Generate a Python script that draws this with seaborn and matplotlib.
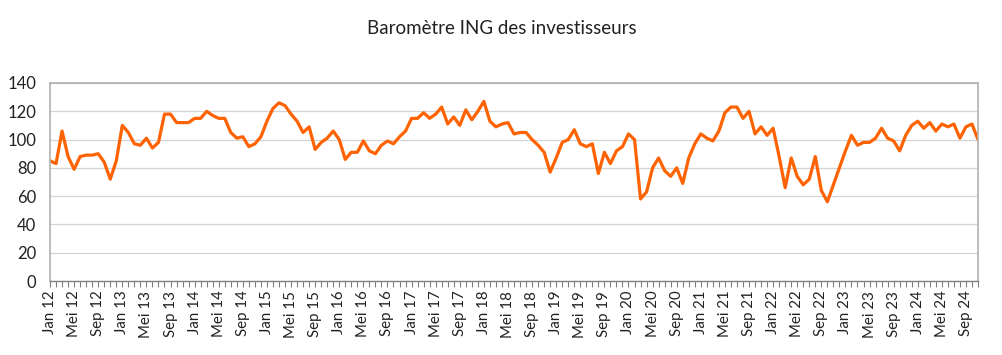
# -*- coding: utf-8 -*-

## Libraries ##

import numpy as np
import pandas as pd
import matplotlib
matplotlib.use("Agg")
import matplotlib.pyplot as plt
import seaborn as sns

## Data ##

title = "Baromètre ING des investisseurs"

# monthly index, Jan 2012 - Nov 2024
barometer = [
    85, 83, 106, 88, 79, 88, 89, 89, 90, 84, 72, 85,
    110, 105, 97, 96, 101, 94, 98, 118, 118, 112, 112, 112,
    115, 115, 120, 117, 115, 115, 105, 101, 102, 95, 97, 102,
    113, 122, 126, 124, 118, 113, 105, 109, 93, 98, 101, 106,
    100, 86, 91, 91, 99, 92, 90, 96, 99, 97, 102, 106,
    115, 115, 119, 115, 118, 123, 111, 116, 110, 121, 114, 120,
    127, 113, 109, 111, 112, 104, 105, 105, 100, 96, 91, 77,
    87, 98, 100, 107, 97, 95, 97, 76, 91, 83, 92, 95,
    104, 100, 58, 63, 80, 87, 78, 74, 80, 69, 87, 97,
    104, 101, 99, 106, 119, 123, 123, 115, 120, 104, 109, 103,
    108, 88, 66, 87, 74, 68, 72, 88, 64, 56, 68, 80,
    92, 103, 96, 98, 98, 101, 108, 101, 99, 92, 103, 110,
    113, 108, 112, 106, 111, 109, 111, 101, 109, 111, 100,
]
month_names = ["Jan", "Feb", "Mrt", "Apr", "Mei", "Jun",
               "Jul", "Aug", "Sep", "Okt", "Nov", "Dec"]
start_year = 2012
y_ticks = [0, 20, 40, 60, 80, 100, 120, 140]

## Build frame ##

month_idx = np.arange(len(barometer))
labels = ["{} {:02d}".format(month_names[i % 12], (start_year + i // 12) % 100)
          for i in month_idx]
df = pd.DataFrame({"Month": month_idx, "Value": barometer})

## Plot ##

sns.set_style("white")
plt.rcParams['font.family'] = ['Lato', 'DejaVu Sans']

fig = plt.figure(figsize=(10.03, 3.55), dpi=100)
ax = fig.add_axes([50 / 1003, 74 / 355, 928 / 1003, 198 / 355])

sns.lineplot(data=df, x="Month", y="Value", color="#FF6200",
             linewidth=2.3, ax=ax, legend=None)

ax.set_xlim(0, len(barometer) - 1)
ax.set_ylim(0, 140)
ax.set_yticks(y_ticks)
ax.yaxis.grid(True, color="#d4d4d4", linewidth=0.9)
ax.set_axisbelow(True)

major = month_idx[::4]
ax.set_xticks(major)
ax.set_xticklabels([labels[i] for i in major], rotation=90)
ax.set_xticks(month_idx, minor=True)
ax.tick_params(axis="x", which="both", direction="out", length=4,
               color="#808080", width=0.8, bottom=True, labelsize=10.8,
               labelcolor="#222222", pad=3)
ax.tick_params(axis="y", length=0, labelsize=12, labelcolor="#222222", pad=10)

for side in ["left", "right", "top"]:
    ax.spines[side].set_color("#b0b0b0")
    ax.spines[side].set_linewidth(1.2)
ax.spines["bottom"].set_color("#808080")
ax.spines["bottom"].set_linewidth(1.0)

ax.set_xlabel("")
ax.set_ylabel("")
fig.text(0.5, 1 - 28 / 355, title, ha="center", va="center",
         fontsize=13.5, color="#222222")

plt.savefig("out.png", dpi=100)
